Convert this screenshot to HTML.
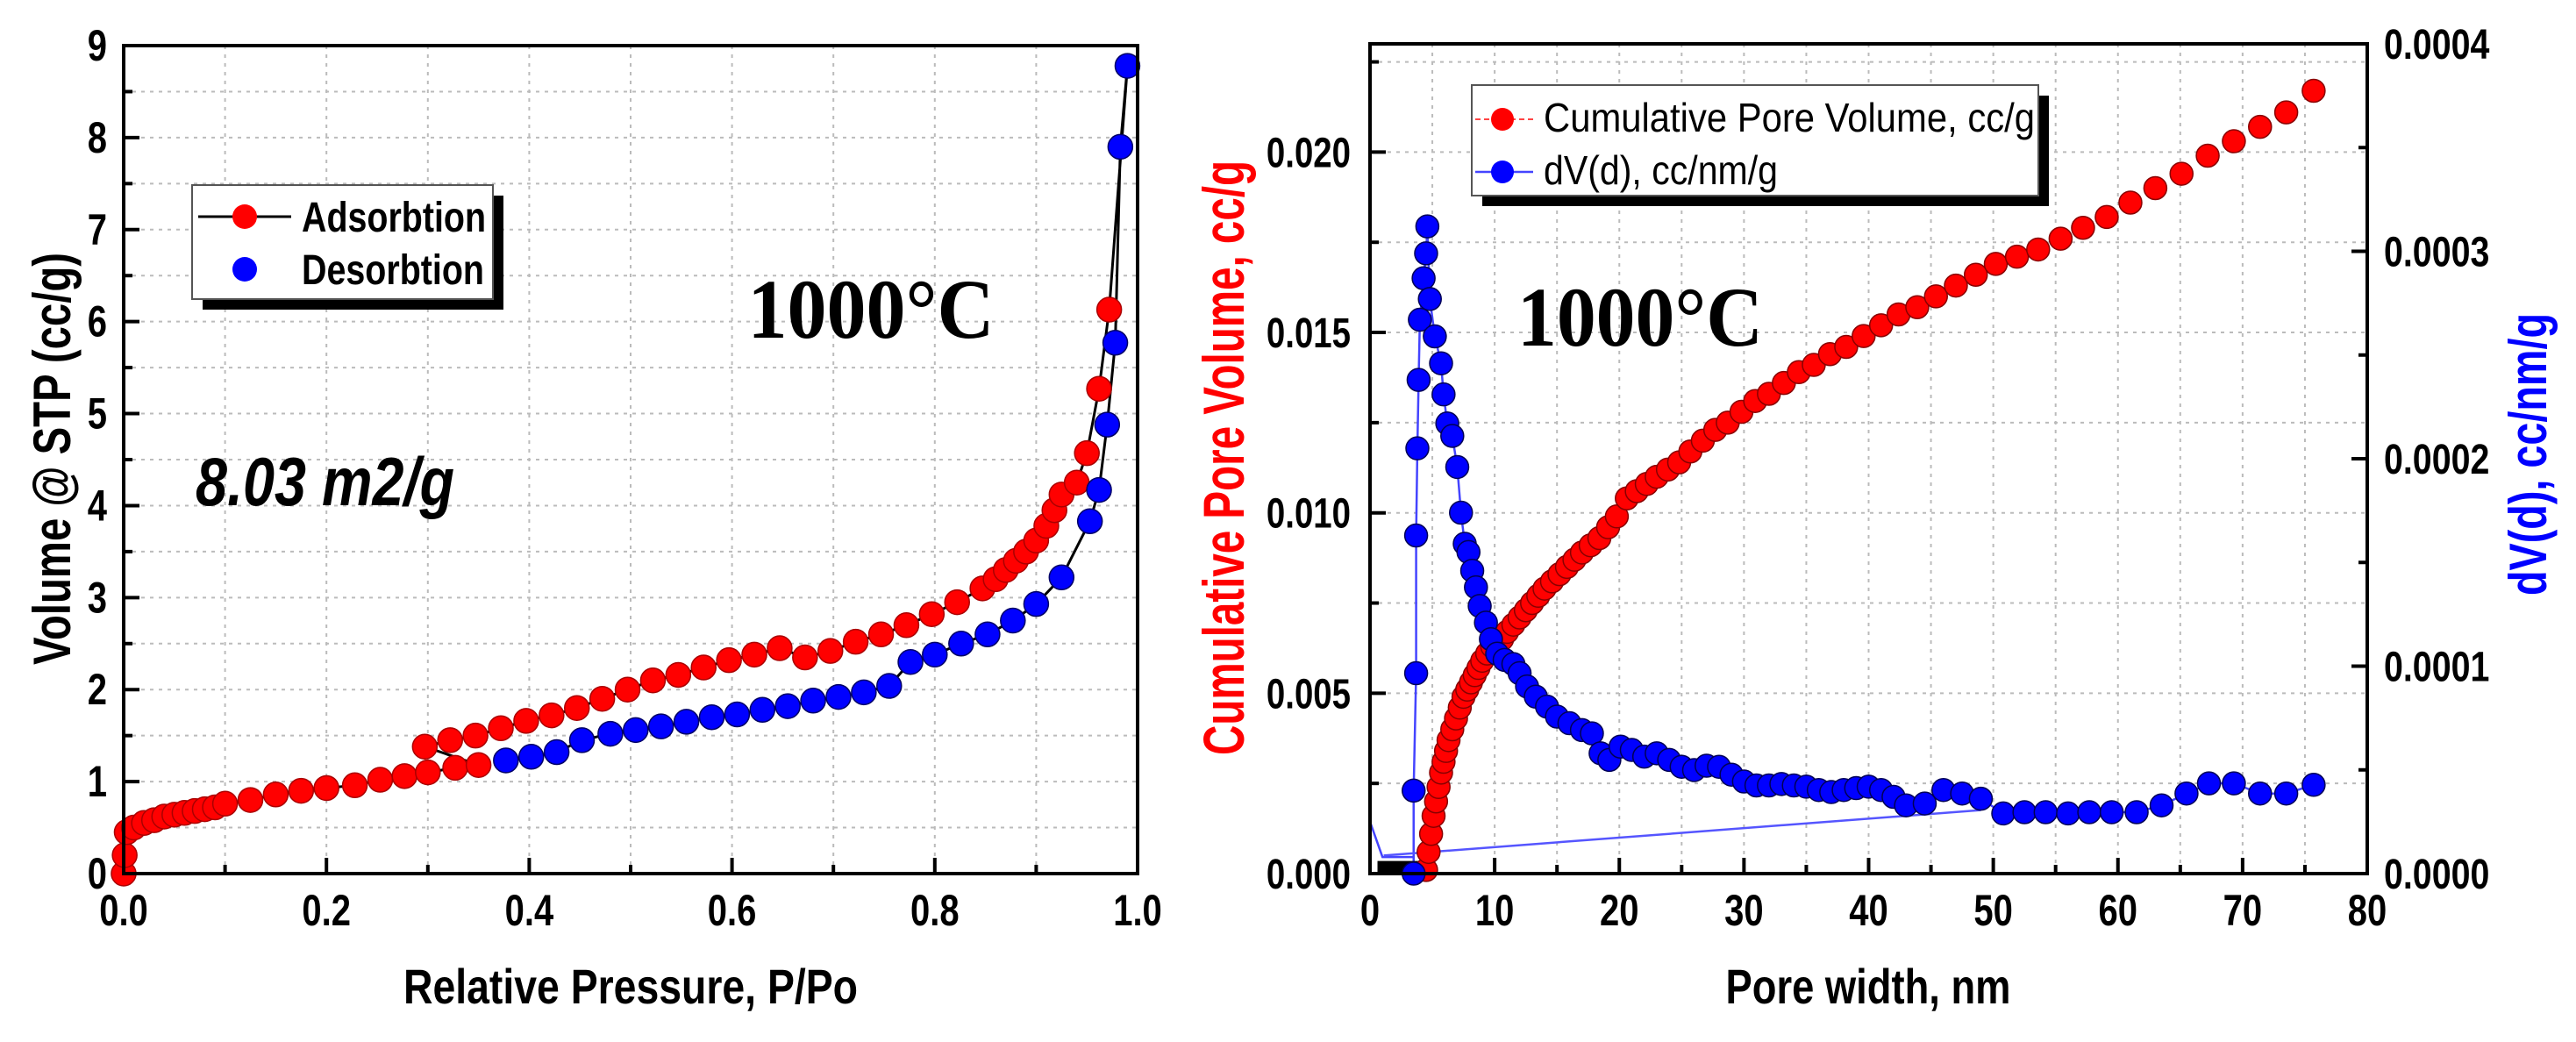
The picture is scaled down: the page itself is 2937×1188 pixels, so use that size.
<!DOCTYPE html>
<html><head><meta charset="utf-8">
<style>
html,body{margin:0;padding:0;background:#fff;}
svg{display:block;font-family:"Liberation Sans",sans-serif;}
</style></head>
<body>
<svg id="chart" width="2937" height="1188" viewBox="0 0 2937 1188" xmlns="http://www.w3.org/2000/svg">
<rect width="2937" height="1188" fill="#fff"/>
</svg>
<script>
// ---------- Left chart data (isotherm) ----------
const adsP = [0,0.001,0.003,0.01,0.02,0.03,0.04,0.05,0.06,0.07,0.08,0.09,0.1,0.125,0.15,0.175,0.2,0.228,0.253,0.277,0.3,0.327,0.35,0.297,0.322,0.347,0.372,0.397,0.422,0.447,0.472,0.497,0.522,0.547,0.572,0.597,0.622,0.647,0.672,0.697,0.722,0.747,0.772,0.797,0.822,0.847,0.86,0.87,0.88,0.89,0.9,0.91,0.918,0.925,0.94,0.95,0.962,0.972];
const adsV = [0,0.2,0.45,0.5,0.55,0.58,0.62,0.64,0.66,0.68,0.7,0.72,0.76,0.8,0.86,0.9,0.93,0.96,1.02,1.06,1.1,1.15,1.18,1.38,1.45,1.5,1.58,1.66,1.72,1.8,1.9,2.0,2.1,2.16,2.24,2.32,2.38,2.45,2.35,2.42,2.52,2.6,2.7,2.82,2.95,3.1,3.2,3.3,3.4,3.5,3.62,3.78,3.95,4.12,4.25,4.57,5.27,6.13];
const desP = [0.99,0.983,0.978,0.97,0.962,0.953,0.925,0.9,0.877,0.852,0.826,0.8,0.776,0.755,0.73,0.705,0.68,0.655,0.63,0.605,0.58,0.555,0.53,0.505,0.48,0.452,0.427,0.402,0.377];
const desV = [8.78,7.9,5.77,4.88,4.17,3.83,3.22,2.93,2.75,2.6,2.5,2.38,2.3,2.04,1.97,1.92,1.88,1.82,1.78,1.73,1.7,1.65,1.6,1.56,1.52,1.45,1.32,1.27,1.23];
const leftXTicks = ["0.0","0.2","0.4","0.6","0.8","1.0"];
const leftXTickVals = [0,0.2,0.4,0.6,0.8,1.0];
const leftYTickVals = [0,1,2,3,4,5,6,7,8,9];

// ---------- Right chart data (pore size) ----------
const cumX = [4.5,4.7,4.9,5.1,5.3,5.5,5.7,5.9,6.1,6.3,6.6,6.9,7.2,7.5,7.8,8.1,8.4,8.7,9.0,9.4,9.8,10.2,10.6,11.0,11.5,12.0,12.5,13.0,13.5,14.0,14.6,15.2,15.8,16.4,17.0,17.7,18.4,19.1,19.8,20.6,21.4,22.2,23.0,23.9,24.8,25.7,26.7,27.7,28.7,29.8,30.9,32.0,33.2,34.4,35.6,36.9,38.2,39.6,41.0,42.4,43.9,45.4,47.0,48.6,50.2,51.9,53.6,55.4,57.2,59.1,61.0,63.0,65.1,67.2,69.3,71.4,73.5,75.7];
const cumY = [0.0001,0.0006,0.0011,0.0016,0.0020,0.0024,0.0028,0.0031,0.0034,0.0037,0.0040,0.0043,0.0046,0.0049,0.0051,0.0053,0.0055,0.0057,0.0059,0.0061,0.0063,0.0063,0.0065,0.0067,0.0069,0.0071,0.0073,0.0075,0.0077,0.0079,0.0081,0.0083,0.0085,0.0087,0.0089,0.0091,0.0093,0.0096,0.0099,0.0104,0.0106,0.0108,0.0110,0.0112,0.0114,0.0117,0.0120,0.0123,0.0125,0.0128,0.0131,0.0133,0.0136,0.0139,0.0141,0.0144,0.0146,0.0149,0.0152,0.0155,0.0157,0.0160,0.0163,0.0166,0.0169,0.0171,0.0173,0.0176,0.0179,0.0182,0.0186,0.0190,0.0194,0.0199,0.0203,0.0207,0.0211,0.0217];
const dvX = [3.5,3.5,3.7,3.7,3.8,3.9,4.0,4.3,4.5,4.6,4.8,5.2,5.7,5.9,6.2,6.6,7.0,7.3,7.6,7.9,8.2,8.5,8.8,9.3,9.7,10.2,10.8,11.5,12.0,12.6,13.3,14.2,15.0,16.0,17.0,17.8,18.5,19.2,20.1,21.0,22.0,23.0,24.0,25,26,27,28,29,30,31,32,33,34,35,36,37,38,39,40,41,42,43,44.5,46,47.5,49,50.8,52.5,54.2,56,57.7,59.5,61.5,63.5,65.5,67.3,69.3,71.4,73.5,75.7];
const dvY = [0,0.00004,0.0000966,0.000163,0.000205,0.000238,0.000267,0.000287,0.000299,0.000312,0.000277,0.000259,0.000246,0.000231,0.000217,0.000211,0.000196,0.000174,0.000159,0.000155,0.000146,0.000138,0.000129,0.000121,0.000113,0.000106,0.000103,0.000101,0.0000966,0.0000902,0.0000853,0.0000805,0.0000757,0.0000725,0.0000692,0.0000676,0.000058,0.0000548,0.0000612,0.0000596,0.0000564,0.000058,0.0000548,0.0000515,0.0000499,0.000052,0.0000515,0.0000477,0.0000444,0.0000425,0.0000425,0.0000432,0.0000425,0.0000419,0.0000403,0.0000393,0.0000403,0.0000412,0.0000419,0.0000403,0.000037,0.0000329,0.0000338,0.0000403,0.0000386,0.0000361,0.000029,0.0000296,0.0000296,0.000029,0.0000296,0.0000296,0.0000296,0.0000329,0.0000386,0.0000435,0.0000435,0.0000386,0.0000386,0.0000428];
const dvLeadX = [0,1,3.5];
const dvLeadY = [0.000025,0.000008,0.000008];
const dvTailX = [1.1,49];
const dvTailY = [0.0000087,0.0000306];
const rightXTickVals = [0,10,20,30,40,50,60,70,80];
const rightYLTickVals = [0,0.005,0.010,0.015,0.020];
const rightYLTicks = ["0.000","0.005","0.010","0.015","0.020"];
const rightYRTickVals = [0,0.0001,0.0002,0.0003,0.0004];
const rightYRTicks = ["0.0000","0.0001","0.0002","0.0003","0.0004"];

const NS = "http://www.w3.org/2000/svg";
const svg = document.getElementById('chart');
function mk(tag, attrs, parent){
  const e = document.createElementNS(NS, tag);
  for (const k in attrs) e.setAttribute(k, attrs[k]);
  (parent||svg).appendChild(e);
  return e;
}
function txt(s, x, y, size, opts, parent){
  opts = opts||{};
  const e = mk('text', {x:0, y:0, 'font-size':size, 'font-weight':opts.weight||'bold', fill:opts.fill||'#000',
    'text-anchor':opts.anchor||'middle', 'font-family':opts.family||'"Liberation Sans",sans-serif',
    transform:'translate('+x+','+y+')'+(opts.rot?' rotate('+opts.rot+')':'')+' scale('+(opts.sx||1)+',1)'}, parent);
  if (opts.italic) e.setAttribute('font-style','italic');
  if (opts.len){ e.setAttribute('textLength', opts.len); e.setAttribute('lengthAdjust','spacingAndGlyphs'); }
  e.textContent = s;
  return e;
}

// ================= LEFT CHART =================
const L = {x0:141, x1:1297, y0:996, y1:52};
const lx = p => L.x0 + (p-0)/(1-0)*(L.x1-L.x0);
const ly = v => L.y0 - v/9*(L.y0-L.y1);
const gL = mk('g', {});


for (let i=1;i<10;i++){ const g=mk('line',{x1:lx(i/10),x2:lx(i/10),y1:L.y1,y2:L.y0,stroke:'#bbb','stroke-width':2,'stroke-dasharray':'4,6'},gL);   }
for (let i=1;i<18;i++){ const g=mk('line',{x1:L.x0,x2:L.x1,y1:ly(i/2),y2:ly(i/2),stroke:'#bbb','stroke-width':2,'stroke-dasharray':'4,6'},gL);   }
for (let i=0;i<=10;i++){ const t=mk('line',{x1:lx(i/10),x2:lx(i/10),y1:L.y0,y2:L.y0-(i%2?10:18),stroke:'#000','stroke-width':4},gL);   }
for (let i=0;i<=18;i++){ const t=mk('line',{x1:L.x0,x2:L.x0+(i%2?10:18),y1:ly(i/2),y2:ly(i/2),stroke:'#000','stroke-width':4},gL);   }
let dA=''; adsP.forEach((p,i)=>{ dA+=(i?'L':'M')+lx(p)+','+ly(adsV[i]); });
const la=mk('path',{d:dA,fill:'none',stroke:'#000','stroke-width':3},gL);  
let dD='M'+lx(adsP[adsP.length-1])+','+ly(adsV[adsV.length-1]);
desP.forEach((p,i)=>{ dD+='L'+lx(p)+','+ly(desV[i]); });
const ld=mk('path',{d:dD,fill:'none',stroke:'#000','stroke-width':3},gL);  
adsP.forEach((p,i)=>{ const c=mk('circle',{cx:lx(p),cy:ly(adsV[i]),r:14,fill:'#f00',stroke:'#a00','stroke-width':1.5},gL);   });
desP.forEach((p,i)=>{ const c=mk('circle',{cx:lx(p),cy:ly(desV[i]),r:14,fill:'#00f',stroke:'#006','stroke-width':1.5},gL);   });
const fl=mk('rect',{x:L.x0,y:L.y1,width:L.x1-L.x0,height:L.y0-L.y1,fill:'none',stroke:'#000','stroke-width':4},gL);  
leftXTickVals.forEach((v,i)=>{ const t=txt(leftXTicks[i], lx(v), 1055, 50, {sx:0.8}, gL);   });
leftYTickVals.forEach(v=>{ const t=txt(String(v), 122, ly(v)+17, 50, {anchor:'end',sx:0.8}, gL);   });
let t;
t=txt('Relative Pressure, P/Po', 719, 1144, 56, {len:518}, gL);  
t=txt('Volume @ STP (cc/g)', 80, 523, 60, {rot:-90,len:470}, gL);  
t=txt('1000°C', 993, 385, 96, {family:'"Liberation Serif",serif',len:281}, gL);  
t=txt('8.03 m2/g', 223, 576, 78, {anchor:'start',italic:true,len:295}, gL);  
const lgL=mk('g',{},gL);  
mk('rect',{x:231,y:223,width:343,height:130,fill:'#000'},lgL);
mk('rect',{x:219,y:211,width:343,height:130,fill:'#fff',stroke:'#555','stroke-width':2},lgL);
mk('line',{x1:226,x2:332,y1:247,y2:247,stroke:'#000','stroke-width':3},lgL);
mk('circle',{cx:279,cy:247,r:14,fill:'#f00'},lgL);
mk('circle',{cx:279,cy:307,r:14,fill:'#00f'},lgL);
t=txt('Adsorbtion', 344, 264, 48, {anchor:'start',len:210}, lgL);  
t=txt('Desorbtion', 344, 324, 48, {anchor:'start',len:208}, lgL);  

// ================= RIGHT CHART =================
const R = {x0:1562, x1:2699, y0:996, y1:50};
const rx = d => R.x0 + d/80*(R.x1-R.x0);
const ryl = v => R.y0 - v/0.023*(R.y0-R.y1);
const ryr = v => R.y0 - v/0.0004*(R.y0-R.y1);
const gR = mk('g', {});


for (let i=1;i<16;i++){ const g=mk('line',{x1:rx(i*5),x2:rx(i*5),y1:R.y1,y2:R.y0,stroke:'#bbb','stroke-width':2,'stroke-dasharray':'4,6'},gR);   }
for (let i=1;i<10;i++){ const g=mk('line',{x1:R.x0,x2:R.x1,y1:ryl(i*0.0025),y2:ryl(i*0.0025),stroke:'#bbb','stroke-width':2,'stroke-dasharray':'4,6'},gR);   }
for (let i=0;i<=16;i++){ const tk=mk('line',{x1:rx(i*5),x2:rx(i*5),y1:R.y0,y2:R.y0-(i%2?10:18),stroke:'#000','stroke-width':4},gR);   }
for (let i=0;i<=9;i++){ const tk=mk('line',{x1:R.x0,x2:R.x0+(i%2?10:18),y1:ryl(i*0.0025),y2:ryl(i*0.0025),stroke:'#000','stroke-width':4},gR);   }
for (let i=0;i<=8;i++){ const tk=mk('line',{x1:R.x1,x2:R.x1-(i%2?10:18),y1:ryr(i*0.00005),y2:ryr(i*0.00005),stroke:'#000','stroke-width':4},gR);   }
let dL=''; dvLeadX.forEach((x,i)=>{ dL+=(i?'L':'M')+rx(x)+','+ryr(dvLeadY[i]); });
dvX.forEach((x,i)=>{ dL+='L'+rx(x)+','+ryr(dvY[i]); });
const dvl=mk('path',{d:dL,fill:'none',stroke:'#44f','stroke-width':2.5},gR);  
let dT=''; dvTailX.forEach((x,i)=>{ dT+=(i?'L':'M')+rx(x)+','+ryr(dvTailY[i]); });
const dvt=mk('path',{d:dT,fill:'none',stroke:'#55f','stroke-width':2.5},gR);  
mk('rect',{x:rx(0.6),y:ryl(0.00035),width:rx(4.4)-rx(0.6),height:ryl(0)-ryl(0.00035),fill:'#000'},gR);
cumX.forEach((x,i)=>{ const c=mk('circle',{cx:rx(x),cy:ryl(cumY[i]),r:13,fill:'#f00',stroke:'#800','stroke-width':1.5},gR);   });
dvX.forEach((x,i)=>{ const c=mk('circle',{cx:rx(x),cy:ryr(dvY[i]),r:13,fill:'#00f',stroke:'#005','stroke-width':1.5},gR);   });
const fr=mk('rect',{x:R.x0,y:R.y1,width:R.x1-R.x0,height:R.y0-R.y1,fill:'none',stroke:'#000','stroke-width':4},gR);  
rightXTickVals.forEach(v=>{ const q=txt(String(v), rx(v), 1055, 50, {sx:0.8}, gR);   });
rightYLTickVals.forEach((v,i)=>{ const q=txt(rightYLTicks[i], 1540, ryl(v)+17, 48, {anchor:'end',sx:0.8}, gR);   });
rightYRTickVals.forEach((v,i)=>{ const q=txt(rightYRTicks[i], 2718, ryr(v)+17, 48, {anchor:'start',sx:0.82}, gR);   });
t=txt('Pore width, nm', 2130, 1144, 56, {len:325}, gR);  
t=txt('Cumulative Pore Volume, cc/g', 1418, 522, 66, {rot:-90,len:678,fill:'#f00'}, gR);  
t=txt('dV(d), cc/nm/g', 2903, 518, 60, {rot:-90,len:322,fill:'#00f'}, gR);  
t=txt('1000°C', 1870, 394, 96, {family:'"Liberation Serif",serif',len:280}, gR);  
const lgR=mk('g',{},gR);  
mk('rect',{x:1690,y:109,width:646,height:126,fill:'#000'},lgR);
mk('rect',{x:1678,y:97,width:646,height:126,fill:'#fff',stroke:'#555','stroke-width':2},lgR);
mk('line',{x1:1682,x2:1748,y1:136,y2:136,stroke:'#f44','stroke-width':2,'stroke-dasharray':'6,4'},lgR);
mk('circle',{cx:1713,cy:136,r:13,fill:'#f00'},lgR);
mk('line',{x1:1682,x2:1748,y1:196,y2:196,stroke:'#44f','stroke-width':2.5},lgR);
mk('circle',{cx:1713,cy:196,r:13,fill:'#00f'},lgR);
t=txt('Cumulative Pore Volume, cc/g', 1760, 150, 46, {anchor:'start',weight:'normal',len:560}, lgR);  
t=txt('dV(d), cc/nm/g', 1760, 210, 46, {anchor:'start',weight:'normal',len:267}, lgR);  
</script>
</body></html>
